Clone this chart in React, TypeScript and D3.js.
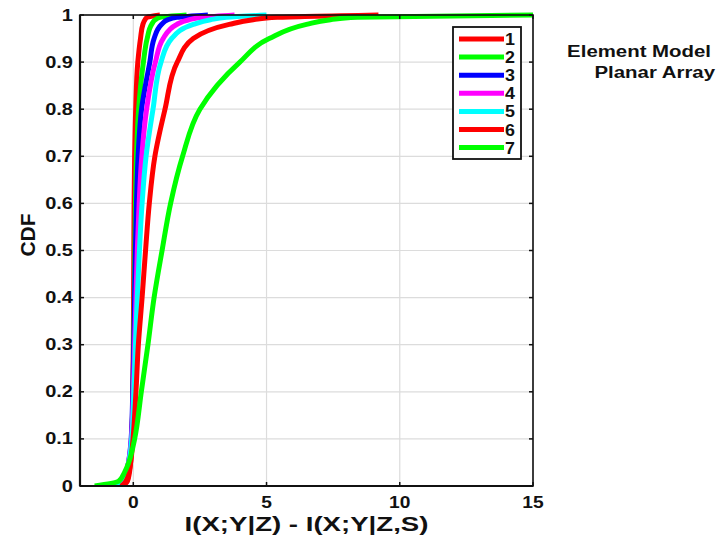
import React from "react";
import * as d3 from "d3";

// CDF levels shared by all series
const cdfLevels = [0, 0.01, 0.03, 0.05, 0.1, 0.2, 0.3, 0.4, 0.5, 0.6, 0.7, 0.8, 0.9, 0.95, 0.98, 0.99, 0.995, 1];

// x quantiles for each series at the CDF levels above
const series1 = [-0.4, -0.22, -0.14, -0.1, -0.05, -0.02, 0.0, 0.01, 0.02, 0.03, 0.05, 0.09, 0.17, 0.27, 0.36, 0.44, 0.52, 1.0];
const series2 = [-0.7, -0.36, -0.21, -0.14, -0.06, -0.01, 0.02, 0.04, 0.06, 0.08, 0.12, 0.2, 0.38, 0.52, 0.69, 0.83, 1.0, 2.0];
const series3 = [-0.8, -0.4, -0.25, -0.18, -0.08, -0.02, 0.02, 0.05, 0.08, 0.12, 0.18, 0.31, 0.62, 0.78, 1.06, 1.3, 1.63, 2.8];
const series4 = [-0.8, -0.42, -0.26, -0.18, -0.07, 0.0, 0.05, 0.1, 0.15, 0.22, 0.32, 0.5, 0.83, 1.12, 1.63, 2.1, 2.6, 3.8];
const series5 = [-0.8, -0.42, -0.26, -0.17, -0.06, 0.02, 0.08, 0.15, 0.23, 0.33, 0.48, 0.74, 1.04, 1.44, 2.25, 2.9, 3.5, 5.0];
const series6 = [-0.45, -0.28, -0.16, -0.1, -0.01, 0.1, 0.19, 0.33, 0.46, 0.6, 0.81, 1.19, 1.65, 2.25, 3.6, 4.5, 5.4, 9.2];
const series7 = [-1.45, -0.55, -0.32, -0.17, 0.05, 0.3, 0.55, 0.78, 1.08, 1.4, 1.85, 2.5, 4.0, 5.1, 6.5, 7.4, 8.4, 15];

const seriesNames = ["1", "2", "3", "4", "5", "6", "7"];
const seriesColors = ["#ff0000", "#00ff00", "#0000ff", "#ff00ff", "#00ffff", "#ff0000", "#00ff00"];
const allSeries = [series1, series2, series3, series4, series5, series6, series7];

const xTicks = [0, 5, 10, 15];
const yTicks = [0, 0.1, 0.2, 0.3, 0.4, 0.5, 0.6, 0.7, 0.8, 0.9, 1];
const xLabel = "I(X;Y|Z) - I(X;Y|Z,S)";
const yLabel = "CDF";
const noteLines = ["Element Model", "Planar Array"];

const W = 721;
const H = 548;
const M = { left: 80, right: 533, top: 15, bottom: 486 };
const FONT = "'Liberation Sans', Arial, Helvetica, sans-serif";

function SText(props: { x: number; y: number; sx?: number; size: number; anchor?: string; children: React.ReactNode; rotate?: number }) {
  const { x, y, sx = 1, size, anchor = "start", children, rotate = 0 } = props;
  return (
    <text
      transform={`translate(${x},${y}) rotate(${rotate}) scale(${sx},1)`}
      fontFamily={FONT}
      fontWeight="bold"
      fontSize={size}
      textAnchor={anchor}
      fill="#111"
    >
      {children}
    </text>
  );
}

export default function App() {
  const x = d3.scaleLinear().domain([-2, 15]).range([M.left, M.right]);
  const y = d3.scaleLinear().domain([0, 1]).range([M.bottom, M.top]);
  const line = d3
    .line<[number, number]>()
    .x((d) => x(d[0]))
    .y((d) => y(d[1]))
    .curve(d3.curveMonotoneY);

  const legendX = 453;
  const legendY = 27;
  const legendW = 68;
  const legendH = 132;
  const rowH = 18.1;

  return (
    <svg width={W} height={H} style={{ position: "absolute", left: 0, top: 0, background: "#fff" }}>
      <defs>
        <clipPath id="plotclip">
          <rect x={M.left} y={M.top - 4} width={M.right - M.left} height={M.bottom - M.top + 4} />
        </clipPath>
      </defs>
      {/* grid */}
      {yTicks.map((t) => (
        <line key={"gy" + t} x1={M.left} x2={M.right} y1={y(t)} y2={y(t)} stroke="#dcdcdc" strokeWidth={1.2} />
      ))}
      {xTicks.map((t) => (
        <line key={"gx" + t} x1={x(t)} x2={x(t)} y1={M.top} y2={M.bottom} stroke="#dcdcdc" strokeWidth={1.2} />
      ))}
      {/* curves */}
      <g clipPath="url(#plotclip)">
        {allSeries.map((s, i) => {
          const pts: [number, number][] = s.map((v, j) => [v, cdfLevels[j]]);
          return (
            <path key={i} d={line(pts) || ""} fill="none" stroke={seriesColors[i]} strokeWidth={5} strokeLinejoin="round" strokeLinecap="butt" />
          );
        })}
      </g>
      {/* frame */}
      <rect x={M.left} y={M.top} width={M.right - M.left} height={M.bottom - M.top} fill="none" stroke="#111" strokeWidth={1.6} />
      <line x1={M.left} x2={M.right} y1={M.bottom} y2={M.bottom} stroke="#111" strokeWidth={2.2} />
      <line x1={M.left} x2={M.left} y1={M.top} y2={M.bottom} stroke="#111" strokeWidth={2.2} />
      {/* ticks */}
      {yTicks.map((t) => (
        <g key={"ty" + t}>
          <line x1={M.left} x2={M.left + 4} y1={y(t)} y2={y(t)} stroke="#111" strokeWidth={1.5} />
          <line x1={M.right} x2={M.right - 4} y1={y(t)} y2={y(t)} stroke="#111" strokeWidth={1.5} />
          <SText x={73} y={y(t) + 5.5} size={16} sx={1.25} anchor="end">
            {String(t)}
          </SText>
        </g>
      ))}
      {xTicks.map((t) => (
        <g key={"tx" + t}>
          <line x1={x(t)} x2={x(t)} y1={M.bottom} y2={M.bottom - 4} stroke="#111" strokeWidth={1.5} />
          <line x1={x(t)} x2={x(t)} y1={M.top} y2={M.top + 4} stroke="#111" strokeWidth={1.5} />
          <SText x={x(t)} y={508} size={16} sx={1.2} anchor="middle">
            {String(t)}
          </SText>
        </g>
      ))}
      {/* axis labels */}
      <SText x={(M.left + M.right) / 2} y={531} size={20} sx={1.38} anchor="middle">
        {xLabel}
      </SText>
      <SText x={35} y={235} size={21} anchor="middle" rotate={-90}>
        {yLabel}
      </SText>
      {/* legend */}
      <rect x={legendX} y={legendY} width={legendW} height={legendH} fill="#fff" stroke="#111" strokeWidth={1.8} />
      {seriesNames.map((n, i) => (
        <g key={"lg" + n}>
          <line
            x1={legendX + 6}
            x2={legendX + 51}
            y1={legendY + 12 + i * rowH}
            y2={legendY + 12 + i * rowH}
            stroke={seriesColors[i]}
            strokeWidth={5}
          />
          <SText x={legendX + 52} y={legendY + 12 + i * rowH + 6} size={17} sx={1.05}>
            {n}
          </SText>
        </g>
      ))}
      {/* note */}
      <SText x={711} y={57} size={17} sx={1.2} anchor="end">
        {noteLines[0]}
      </SText>
      <SText x={715} y={78} size={17} sx={1.2} anchor="end">
        {noteLines[1]}
      </SText>
    </svg>
  );
}
